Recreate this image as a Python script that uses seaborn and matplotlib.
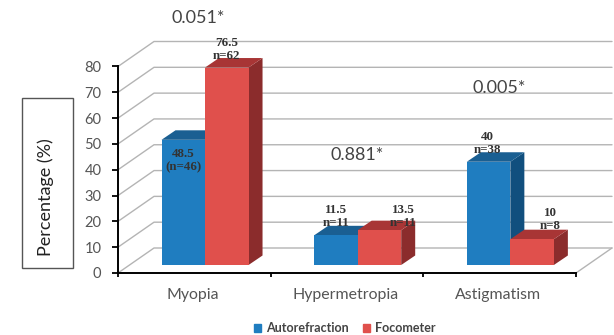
import matplotlib
matplotlib.use("Agg")
import matplotlib.pyplot as plt
from matplotlib.patches import Polygon, Rectangle, Patch
import pandas as pd
import seaborn as sns

categories = ["Myopia", "Hypermetropia", "Astigmatism"]
series = ["Autorefraction", "Focometer"]
autorefraction = [48.5, 11.5, 40]
focometer = [76.5, 13.5, 10]
auto_labels = ["48.5\n(n=46)", "11.5\nn=11", "40\nn=38"]
foco_labels = ["76.5\nn=62", "13.5\nn=11", "10\nn=8"]
p_values = ["0.051*", "0.881*", "0.005*"]
y_ticks = [0, 10, 20, 30, 40, 50, 60, 70, 80]

W, H = 614, 335
sns.set_theme(style="white")
plt.rcParams["font.family"] = ["Lato", "DejaVu Sans"]
fig = plt.figure(figsize=(W / 100, H / 100), dpi=100)
ax = fig.add_axes([118 / W, 1 - 273 / H, 458 / W, 206.5 / H])

df = pd.DataFrame({
    "Category": categories * 2,
    "Series": [series[0]] * 3 + [series[1]] * 3,
    "Percentage": autorefraction + focometer,
})
front = {series[0]: "#1f7dc0", series[1]: "#e0504c"}
floor_lift = 3.1
sns.barplot(data=df, x="Category", y="Percentage", hue="Series", order=categories,
            hue_order=series, palette=front, saturation=1, width=0.57,
            bottom=floor_lift, linewidth=0, ax=ax, legend=False)

ax.set_xlim(-0.57, 2.43)
ax.set_ylim(0, 80)
px_x = 3.0 / 458
px_y = 80 / 206.5

# 3D depth of the bars
side_c = ["#114f7e", "#8b2c2c"]
top_c = ["#1a5f92", "#a83535"]
dx, dy = 14 * px_x, 9.5 * px_y
for k, cont in enumerate(ax.containers):
    for bar in cont:
        x0, x1 = bar.get_x(), bar.get_x() + bar.get_width()
        y0, y1 = bar.get_y(), bar.get_y() + bar.get_height()
        z = 3 + 2 * k
        bar.set_zorder(z + 1)
        ax.add_patch(Polygon([(x1, y0), (x1 + dx, y0 + dy), (x1 + dx, y1 + dy), (x1, y1)],
                             fc=side_c[k], lw=0, zorder=z, clip_on=False))
        ax.add_patch(Polygon([(x0, y1), (x0 + dx, y1 + dy), (x1 + dx, y1 + dy), (x1, y1)],
                             fc=top_c[k], lw=0, zorder=z, clip_on=False))

# Walls
wall_dx, wall_dy = 36 * px_x, 25 * px_y
xl, xr = ax.get_xlim()
grid_c = "#b4b4b4"
for v in y_ticks:
    ax.plot([xl, xl + wall_dx, xr + wall_dx], [v, v + wall_dy, v + wall_dy],
            color=grid_c, lw=1.0, zorder=1, clip_on=False)
ax.plot([xr, xr + wall_dx], [0, wall_dy], color=grid_c, lw=1.0, zorder=1, clip_on=False)

# Axes
for s in ["top", "right"]:
    ax.spines[s].set_visible(False)
for s in ["left", "bottom"]:
    ax.spines[s].set_color("black")
    ax.spines[s].set_linewidth(1.4)
    ax.spines[s].set_zorder(8)
ax.set_yticks(y_ticks)
ax.tick_params(axis="y", left=True, length=4.5, width=1.3, color="black",
               labelsize=10.5, labelcolor="#555555", pad=7.5)
ax.set_xticks([xl, xl + 1, xl + 2, xl + 3])
ax.set_xticklabels([])
ax.tick_params(axis="x", which="major", bottom=True, length=3, width=1.3, color="black")
ax.set_xticks([i - 0.08 for i in range(3)], minor=True)
ax.set_xticklabels(categories, minor=True)
ax.tick_params(axis="x", which="minor", bottom=False, length=0, labelsize=11.4,
               labelcolor="#555555", pad=10.5)
ax.set_xlabel("")
ax.set_ylabel("")

# Value labels (hand placed in the reference)
label_font = dict(family="Liberation Serif", fontsize=9.4, fontweight="bold", color="#333333",
                  ha="center", va="baseline", linespacing=1.1, zorder=10)
offsets = [[(0, -30), (0, 9)], [(0, 9), (24, 4)], [(-1, 9), (18, 10)]]
for k, (cont, labels) in enumerate(zip(ax.containers, [auto_labels, foco_labels])):
    for i, (bar, text) in enumerate(zip(cont, labels)):
        ox, oy = offsets[i][k]
        ax.annotate(text, (bar.get_x() + bar.get_width() / 2, bar.get_y() + bar.get_height()),
                    xytext=(ox, oy), textcoords="offset pixels", annotation_clip=False,
                    **label_font)

# p-values
p_pos = [(198, 18), (357, 155), (499, 88)]
for text, (px, py) in zip(p_values, p_pos):
    fig.text(px / W, 1 - py / H, text, ha="center", va="center", fontsize=13,
             color="#444444", zorder=10)

# Boxed axis title
fig.add_artist(Rectangle((22 / W, 1 - 268 / H), 51 / W, 170 / H, transform=fig.transFigure,
                         fc="white", ec="#555555", lw=1.0))
fig.text(46 / W, 1 - 197 / H, "Percentage (%)", rotation=90, ha="center", va="center",
         fontsize=13, color="#222222")

# Legend
handles = [Patch(color=front[s], label=s) for s in series]
leg = ax.legend(handles=handles, loc="center", bbox_to_anchor=(345 / W, 1 - 328 / H),
                bbox_transform=fig.transFigure, ncol=2, frameon=False,
                fontsize=9.0, handlelength=0.6, handleheight=0.6, handletextpad=0.4,
                columnspacing=1.1, borderpad=0)
for t in leg.get_texts():
    t.set_fontweight("bold")
    t.set_color("#444444")

fig.savefig("out.png", dpi=100)
